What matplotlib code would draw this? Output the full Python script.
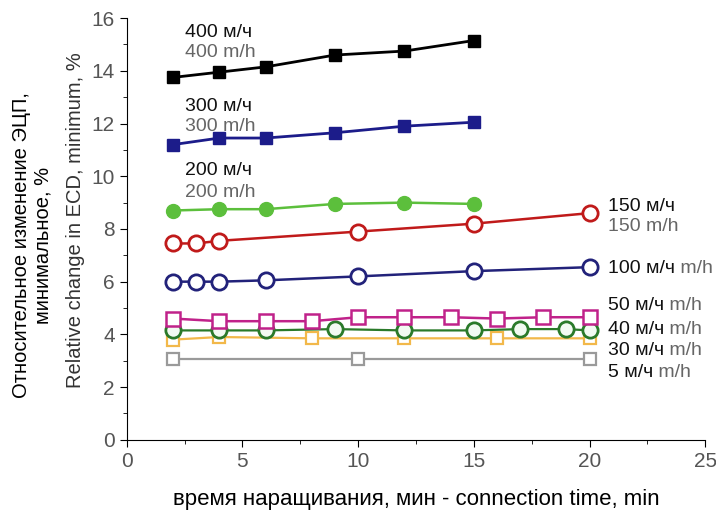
import matplotlib.pyplot as plt
from matplotlib.ticker import MultipleLocator

plt.rcParams['font.family'] = ['Liberation Sans', 'DejaVu Sans']

# series: x (connection time, min) and y (relative change in ECD, %)
x400 = [2, 4, 6, 9, 12, 15]
y400 = [13.75, 13.95, 14.15, 14.6, 14.75, 15.15]
x300 = [2, 4, 6, 9, 12, 15]
y300 = [11.2, 11.45, 11.45, 11.65, 11.9, 12.05]
x200 = [2, 4, 6, 9, 12, 15]
y200 = [8.7, 8.75, 8.75, 8.95, 9.0, 8.95]
x150 = [2, 3, 4, 10, 15, 20]
y150 = [7.45, 7.45, 7.55, 7.9, 8.2, 8.6]
x100 = [2, 3, 4, 6, 10, 15, 20]
y100 = [6.0, 6.0, 6.0, 6.05, 6.2, 6.4, 6.55]
x50 = [2, 4, 6, 8, 10, 12, 14, 16, 18, 20]
y50 = [4.6, 4.5, 4.5, 4.5, 4.65, 4.65, 4.65, 4.6, 4.65, 4.65]
x40 = [2, 4, 6, 9, 12, 15, 17, 19, 20]
y40 = [4.15, 4.15, 4.15, 4.2, 4.15, 4.15, 4.2, 4.2, 4.15]
x30 = [2, 4, 8, 12, 16, 20]
y30 = [3.8, 3.9, 3.85, 3.85, 3.85, 3.85]
x5 = [2, 10, 20]
y5 = [3.05, 3.05, 3.05]

fig = plt.figure(figsize=(7.16, 5.18), dpi=100)
ax = fig.add_axes([0.177, 0.151, 0.808, 0.814])

ax.plot(x5, y5, color='#9a9a9a', lw=1.6, marker='s', ms=9, mfc='white', mec='#9a9a9a', mew=1.6)
ax.plot(x30, y30, color='#f2b84a', lw=1.6, marker='s', ms=9, mfc='white', mec='#f2b84a', mew=1.6)
ax.plot(x40, y40, color='#2a7a2a', lw=1.6, marker='o', ms=11, mfc='#f2faf2', mec='#2a7a2a', mew=2)
ax.plot(x50, y50, color='#c0228a', lw=1.8, marker='s', ms=10, mfc='white', mec='#c0228a', mew=1.8)
ax.plot(x100, y100, color='#22227a', lw=1.8, marker='o', ms=11, mfc='white', mec='#22227a', mew=2)
ax.plot(x150, y150, color='#c01a1a', lw=1.8, marker='o', ms=11, mfc='white', mec='#c01a1a', mew=2)
ax.plot(x200, y200, color='#5cbf3c', lw=1.8, marker='o', ms=10, mfc='#5cbf3c', mec='#5cbf3c')
ax.plot(x300, y300, color='#1c1c8a', lw=2, marker='s', ms=8, mfc='#1c1c8a', mec='#1c1c8a')
ax.plot(x400, y400, color='black', lw=2, marker='s', ms=8, mfc='black', mec='black')

FS = 14

def label(x, y, ru, en):
    t = ax.text(x, y, ru, fontsize=FS, color='#111111', va='center')
    ax.annotate(' ' + en, xy=(1, 0.5), xycoords=t, va='center',
                fontsize=FS, color='#666666')

for x, y, s in [(2.5, 15.45, '400 м/ч'), (2.5, 12.65, '300 м/ч'), (2.5, 10.2, '200 м/ч'),
                (20.8, 8.85, '150 м/ч')]:
    ax.text(x, y, s, fontsize=FS, color='#111111', va='center')
for x, y, s in [(2.5, 14.7, '400 m/h'), (2.5, 11.9, '300 m/h'), (2.5, 9.4, '200 m/h'),
                (20.8, 8.1, '150 m/h')]:
    ax.text(x, y, s, fontsize=FS, color='#666666', va='center')
for y, s in [(6.5, '100 м/ч'), (5.08, '50 м/ч'), (4.2, '40 м/ч'), (3.4, '30 м/ч'), (2.55, '5 м/ч')]:
    label(20.8, y, s, 'm/h')

ax.set_xlim(0, 25)
ax.set_ylim(0, 16)
ax.xaxis.set_major_locator(MultipleLocator(5))
ax.xaxis.set_minor_locator(MultipleLocator(2.5))
ax.yaxis.set_major_locator(MultipleLocator(2))
ax.yaxis.set_minor_locator(MultipleLocator(1))
ax.spines['top'].set_visible(False)
ax.spines['right'].set_visible(False)
ax.tick_params(which='major', direction='out', length=5, labelsize=15, labelcolor='#555555')
ax.tick_params(which='minor', direction='out', length=3)

ax.set_xlabel('время наращивания, мин - connection time, min', fontsize=16, labelpad=13)
fig.text(0.045, 0.527, 'Относительное изменение ЭЦП,\nминимальное, %', rotation=90,
         ha='center', va='center', fontsize=14.5, multialignment='center', linespacing=1.15)
fig.text(0.105, 0.575, 'Relative change in ECD, minimum, %', rotation=90,
         ha='center', va='center', fontsize=14.5, color='#333333')

fig.savefig('out.png', dpi=100)
